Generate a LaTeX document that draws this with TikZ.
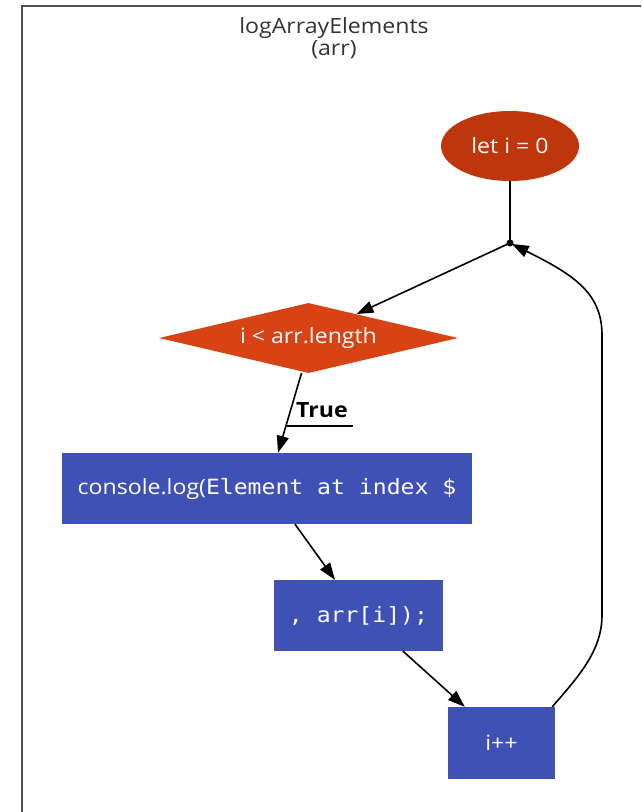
\documentclass[tikz,border=0pt]{standalone}
\usepackage{fontspec}
\setmainfont{Open Sans}
\newfontfamily\codefont{DejaVu Sans Mono}
\usetikzlibrary{shapes.geometric,arrows.meta,calc}
\definecolor{boxblue}{HTML}{3F51B5}
\definecolor{startred}{HTML}{BF360C}
\definecolor{condorange}{HTML}{D84315}
\definecolor{framegray}{HTML}{505050}
\definecolor{titlegray}{HTML}{333333}
% labels are set slightly wide
\newcommand{\wideText}[1]{\scalebox{1.1}[1]{#1}}

\begin{document}
\begin{tikzpicture}[x=1pt,y=-1pt,
  every node/.style={font=\fontsize{21}{24}\selectfont},
  stepbox/.style={rectangle, fill=boxblue, text=white, inner sep=0pt, minimum height=71pt},
  startnode/.style={ellipse, fill=startred, text=white, inner sep=0pt, minimum width=138pt, minimum height=70pt},
  decision/.style={diamond, aspect=4.27, fill=condorange, text=white, inner sep=0pt, minimum width=299pt, minimum height=70pt},
  link/.style={draw=black, line width=1.6pt},
  flow/.style={link, -{Triangle[length=17pt,width=12pt]}},
]
\useasboundingbox (0,0) rectangle (641,812);
\clip (0,0) rectangle (641,812);

% outer frame
\draw[framegray, line width=2pt] (22,840) -- (22,6) -- (680,6);

% title
\node[text=titlegray, align=center] (title) at (334,38) {\wideText{logArrayElements}\\[-2pt]\wideText{(arr)}};

% nodes
\node[startnode] (init) at (510,146) {\wideText{let i = 0}};
\coordinate (join) at (510,243);
\node[decision] (cond) at (308.5,338) {\wideText{i < arr.length}};
\node[stepbox, minimum width=410pt] (logA) at (267,488.5) {\wideText{console.log({\codefont Element at index \$}}};
\node[stepbox, minimum width=169pt] (logB) at (358.5,615.5) {\wideText{\codefont , arr[i]);}};
\node[stepbox, minimum width=107pt, minimum height=72pt] (inc) at (501.5,743) {\wideText{i++}};
\node[font=\fontsize{21}{24}\selectfont\bfseries, text=black] (truelbl) at (322,410) {\wideText{True}};

% connectors
\draw[link] (init.south) -- (join);
\fill (join) circle (3.5pt);
\draw[flow] (join) -- ($(cond.north)!0.32!(cond.east)$);
\draw[flow] ([xshift=-7pt]cond.south) -- ([xshift=11pt]logA.north);
\draw[link, line width=1.2pt] (285,426) -- (353,426);
\draw[flow] ([xshift=28pt]logA.south) -- ([xshift=-23.5pt]logB.north);
\draw[flow] ([xshift=44.5pt]logB.south) -- ([xshift=17pt]inc.north west);
\draw[flow, shorten >=2pt] ([xshift=-3pt]inc.north east)
  .. controls (580,675) and (602,650) .. (602,615)
  -- (602,335)
  .. controls (602,292) and (572,274) .. (join);
\end{tikzpicture}
\end{document}
